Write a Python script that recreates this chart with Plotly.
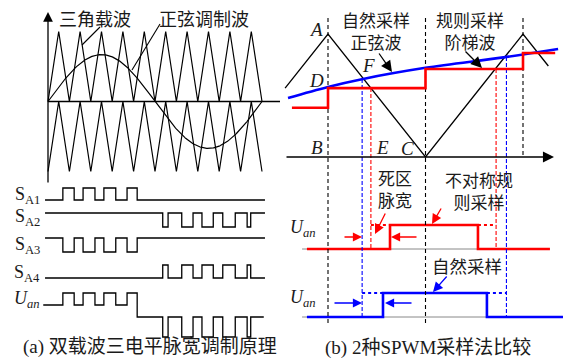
import numpy as np
import plotly.graph_objects as go

W, H = 565, 363
CJK = "Noto Sans CJK SC"
SERIF = "Liberation Serif, Noto Sans CJK SC, serif"
TXT = "#1a1a1a"
RED = "#ff0000"
BLUE = "#0000ff"

# ================= (a) data : double-carrier three-level PWM =================
carrier_deg = [0, 18, 36, 54, 72, 90, 108, 126, 144, 162, 180,
               198, 216, 234, 252, 270, 288, 306, 324, 342, 360]
upper_carrier = [0, 1, 0, 1, 0, 1, 0, 1, 0, 1, 0, 1, 0, 1, 0, 1, 0, 1, 0, 1, 0]
lower_carrier = [-1, 0, -1, 0, -1, 0, -1, 0, -1, 0, -1, 0, -1, 0, -1, 0, -1, 0, -1, 0, -1]
modulation_index = 0.67
sa1_on = [(25, 44), (59, 79), (94, 114), (133, 150)]          # deg
sa2_off = [(193, 202), (225, 244), (259, 278), (294, 315), (335, 341)]
signal_span = (-5, 365)
uan_span = (-8, 363)
signal_labels = ["S<sub>A1</sub>", "S<sub>A2</sub>", "S<sub>A3</sub>", "S<sub>A4</sub>",
                 "<i>U</i><sub><i>an</i></sub>"]

# ================= (b) data : natural vs regular sampling =================
carrier_t = [-0.22, 0.0, 0.5, 1.0, 1.13]
carrier_v = [0.56, 1.0, 0.0, 1.0, 0.74]
sine_t = [-0.205, 0.0, 0.18, 0.5, 0.9, 1.18]
sine_v = [0.48, 0.57, 0.635, 0.725, 0.81, 0.878]
stair_t = [-0.185, 0.0, 0.5, 1.0, 1.165]
stair_v = [0.40, 0.56, 0.715, 0.845, 0.845]
sample_t = [0.0, 0.5, 1.0]
natural_switch_t = [0.175, 0.915]
regular_switch_t = [0.22, 0.862]
natural_pulse_t = [0.282, 0.815]
regular_pulse_t = [0.318, 0.769]
uan_red_span = (-0.108, 1.138)
uan_blue_span = (-0.108, 1.205)

# ================= geometry (pixel layout of the two panels) =================
L_X0, L_DEG = 48.0, 214.0 / 360.0       # left time axis
L_ZERO, L_UNIT = 101.5, 70.0            # left value axis
R_X0, R_T = 328.0, 195.0                # right time axis
R_ZERO, R_UNIT = 157.0, 123.0           # right value axis

def r_v(py):  # pixel row -> right value units
    return (R_ZERO - py) / R_UNIT

fig = go.Figure()

def add(x, y, xa, ya, color="black", width=1.2, dash=None, shape="linear"):
    fig.add_trace(go.Scatter(x=x, y=y, xaxis=xa, yaxis=ya, mode="lines",
                             line=dict(color=color, width=width, dash=dash, shape=shape),
                             hoverinfo="skip", showlegend=False))

# ---- (a) carriers and modulating wave
add(carrier_deg, upper_carrier, "x", "y")
add(carrier_deg, lower_carrier, "x", "y")
th = np.linspace(0, 360, 361)
add(th, modulation_index * np.sin(np.radians(th)), "x", "y")

# ---- (a) switching signals (pixel rows)
rows = [(200, 188, sa1_on), (213, 227, sa2_off), (238, 252, sa1_on), (278, 265, sa2_off)]

def pulses(intervals, idle, active, span):
    xs, ys = [span[0]], [idle]
    for a, b in intervals:
        xs += [a, a, b, b]
        ys += [idle, active, active, idle]
    xs.append(span[1]); ys.append(idle)
    return xs, ys

for idle, active, iv in rows:
    xs, ys = pulses(iv, idle, active, signal_span)
    add(xs, ys, "x", "y2", width=1.3)

# Uan: positive pulses from SA1, negative pulses from SA2 off-times
xs, ys = [uan_span[0]], [305]
for a, b in sa1_on:
    xs += [a, a, b, b]; ys += [305, 293, 293, 305]
ys[-1] = 317
for a, b in sa2_off:
    xs += [a, a, b, b]; ys += [317, 337, 337, 317]
xs.append(uan_span[1]); ys.append(317)
add(xs, ys, "x", "y2", width=1.3)

# ---- (b) gray baselines of Uan rows
add([-0.133, 1.138], [249, 249], "x3", "y2", color="#888", width=1)
add([-0.133, 1.205], [317, 317], "x3", "y2", color="#888", width=1)

# ---- (b) black dashed sampling instants
top_v = r_v(18)
for t in sample_t:
    bottom = 0.0 if t >= 1.0 else r_v(323)
    add([t, t], [top_v, bottom], "x3", "y3", width=1.1, dash="4px,3px")

# carrier
add(carrier_t, carrier_v, "x3", "y3", width=1.3)

# red dashed (regular sampling) and blue dashed (natural sampling)
for t in regular_switch_t:
    lv = stair_v[int(np.searchsorted(stair_t, t)) - 1]
    add([t, t], [lv, r_v(249)], "x3", "y3", color=RED, width=1.1, dash="4px,2px")
for t in natural_switch_t:
    lv = float(np.interp(t, sine_t, sine_v))
    add([t, t], [lv, r_v(317)], "x3", "y3", color=BLUE, width=1.1, dash="4px,2px")

# sine and staircase
add(sine_t, sine_v, "x3", "y3", color=BLUE, width=2.6, shape="spline")
add(stair_t, stair_v, "x3", "y3", color=RED, width=2.6, shape="hv")

# Uan rows
a, b = regular_pulse_t
add([uan_red_span[0], a, a, b, b, uan_red_span[1]], [249, 249, 225, 225, 249, 249],
    "x3", "y2", color=RED, width=2.6)
add([regular_switch_t[0], a], [225, 225], "x3", "y2", color=RED, width=2, dash="dot")
add([b, regular_switch_t[1]], [225, 225], "x3", "y2", color=RED, width=2, dash="dot")
a, b = natural_pulse_t
add([uan_blue_span[0], a, a, b, b, uan_blue_span[1]], [317, 317, 293, 293, 317, 317],
    "x3", "y2", color=BLUE, width=2.6)
add([natural_switch_t[0], a], [293, 293], "x3", "y2", color=BLUE, width=2, dash="dot")
add([b, natural_switch_t[1]], [293, 293], "x3", "y2", color=BLUE, width=2, dash="dot")

# ================= annotations / decorations (pixel coords) =================
ann = []
shapes = []

def text(x, y, s, size=17, family=CJK, xanchor="center", color=TXT):
    ann.append(dict(x=x, y=y, xref="x2", yref="y2", text=s, showarrow=False,
                    font=dict(family=family, size=size, color=color),
                    xanchor=xanchor, yanchor="middle", align="center"))

def arrow(x0, y0, x1, y1, color="black", size=1.4, width=1.3):
    ann.append(dict(x=x1, y=y1, ax=x0, ay=y0, xref="x2", yref="y2", axref="x2", ayref="y2",
                    text="", showarrow=True, arrowhead=2, arrowsize=size,
                    arrowwidth=width, arrowcolor=color, standoff=0, startstandoff=0))

def line(x0, y0, x1, y1, color="black", width=1.1):
    shapes.append(dict(type="line", x0=x0, y0=y0, x1=x1, y1=y1, xref="x2", yref="y2",
                       line=dict(color=color, width=width)))

# left panel axes
arrow(48, 184, 48, 12, size=1.5)
line(48, 101.5, 280, 101.5, width=1.3)
text(95, 18, "三角载波", size=18)
text(204, 18, "正弦调制波", size=18)
line(100, 27, 82, 45)
line(160, 24, 132, 70)

for lab, yy in zip(signal_labels, [195, 217, 245, 273, 299]):
    text(42, yy, lab, size=18, family=SERIF, xanchor="right")
text(150, 347, "(a) 双载波三电平脉宽调制原理", size=19, family=SERIF)

# right panel
arrow(285, 157, 554, 157, size=1.7)
for s, x, y in [("A", 316, 29), ("D", 316, 80), ("F", 368, 65),
                ("B", 317, 147), ("E", 382, 147), ("C", 407, 148)]:
    text(x, y, "<i>%s</i>" % s, size=19, family=SERIF)
text(376, 30.5, "自然采样<br>正弦波", size=17)
text(470, 30.5, "规则采样<br>阶梯波", size=17)
arrow(378, 52, 392, 72, size=1.7)
arrow(464, 50, 482, 68, size=1.7)

text(395, 188, "死区<br>脉宽", size=17)
text(478.5, 190, "不对称规<br>则采样", size=17)
text(467, 265, "自然采样", size=17.5)
arrow(386, 212, 375, 234, color=RED, size=1.5)
arrow(442, 207, 432, 224, color=RED, size=1.5)
arrow(448, 275, 433, 292, color=BLUE, size=1.5)
arrow(343, 237, 362, 237, color=RED, size=1.4)
arrow(418, 237, 391, 237, color=RED, size=1.4)
arrow(333, 303, 362, 303, color=BLUE, size=1.4)
arrow(413, 303, 385, 303, color=BLUE, size=1.4)
text(303, 228, "<i>U</i><sub><i>an</i></sub>", size=18, family=SERIF)
text(303, 298, "<i>U</i><sub><i>an</i></sub>", size=18, family=SERIF)
text(428, 348, "(b) 2种SPWM采样法比较", size=19, family=SERIF)

hidden = dict(visible=False, fixedrange=True)
fig.update_layout(
    width=W, height=H, margin=dict(l=0, r=0, t=0, b=0),
    paper_bgcolor="white", plot_bgcolor="white", showlegend=False,
    xaxis=dict(range=[-L_X0 / L_DEG, (W - L_X0) / L_DEG], domain=[0, 1], **hidden),
    xaxis2=dict(range=[0, W], overlaying="x", **hidden),
    xaxis3=dict(range=[-R_X0 / R_T, (W - R_X0) / R_T], overlaying="x", **hidden),
    yaxis=dict(range=[-(H - L_ZERO) / L_UNIT, L_ZERO / L_UNIT], domain=[0, 1], **hidden),
    yaxis2=dict(range=[H, 0], overlaying="y", **hidden),
    yaxis3=dict(range=[-(H - R_ZERO) / R_UNIT, R_ZERO / R_UNIT], overlaying="y", **hidden),
    annotations=ann, shapes=shapes,
)
fig.write_html("out.html", config={"staticPlot": True},
               post_script="document.body.style.margin='0';document.body.style.overflow='hidden';")
